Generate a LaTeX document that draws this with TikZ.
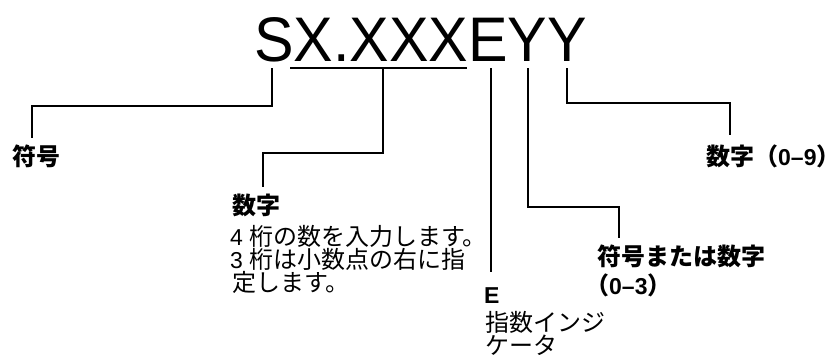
\documentclass[tikz,border=0pt]{standalone}
\usepackage{fontspec}
\setmainfont{Liberation Sans}
\newfontfamily\jp[Scale=1.043]{Noto Sans CJK JP}
\begin{document}
\begin{tikzpicture}[x=1pt,y=-1pt,
  conn/.style={line width=1.3pt},
  lbl/.style={anchor=base west, inner sep=0pt, text height=17pt, text depth=2pt,
    font=\fontsize{23}{25}\selectfont},
  blbl/.style={lbl, font=\fontsize{23}{25}\selectfont\bfseries}]
\useasboundingbox (0,0) rectangle (826,360);
\node[anchor=base west, inner sep=0pt] (title) at (254,61)
  {\scalebox{0.94}[1]{\fontsize{63}{70}\selectfont SX.XXXEYY}};
% attachment points under the title letters
\coordinate (pS)  at (272,68);
\coordinate (uL)  at (290,68);
\coordinate (uR)  at (467,68);
\coordinate (pX)  at (383,68);
\coordinate (pE)  at (491,68);
\coordinate (pY1) at (528,68);
\coordinate (pY2) at (567,68);
% free ends above labels
\coordinate (eS)  at (32,138);
\coordinate (eX)  at (263,187);
\coordinate (eE)  at (491,272);
\coordinate (eY1) at (619,238);
\coordinate (eY2) at (730,135);
% connectors
\draw[conn] (uL) -- (uR);
\draw[conn] (pS) -- ++(0,38) -| (eS);
\draw[conn] (pX) -- ++(0,85) -| (eX);
\draw[conn] (pE) -- (eE);
\draw[conn] (pY1) -- ++(0,139) -| (eY1);
\draw[conn] (pY2) -- ++(0,35) -| (eY2);
% labels
\node[blbl] (lS) at (12,165) {\jp 符号};
\node[blbl] (lX) at (232,214) {\jp 数字};
\node[lbl] (lX1) at (230,245) {4 {\jp 桁の数を入力します。}};
\node[lbl] (lX2) at (230,268) {3 {\jp 桁は小数点の右に指}};
\node[lbl] (lX3) at (232,291) {\jp 定します。};
\node[blbl] (lE) at (484,303) {E};
\node[lbl] (lE1) at (485,331) {\jp 指数インジ};
\node[lbl] (lE2) at (485,354) {\jp ケータ};
\node[blbl] (lY1) at (597,265) {\jp 符号または数字};
\node[blbl] (lY1b) at (597,294) {{\jp\hspace{-0.5em}（}0–3{\jp ）\hspace{-0.45em}}};
\node[blbl] (lY2) at (706,165) {{\jp 数字（}0–9{\jp ）\hspace{-0.5em}}};
\end{tikzpicture}
\end{document}
